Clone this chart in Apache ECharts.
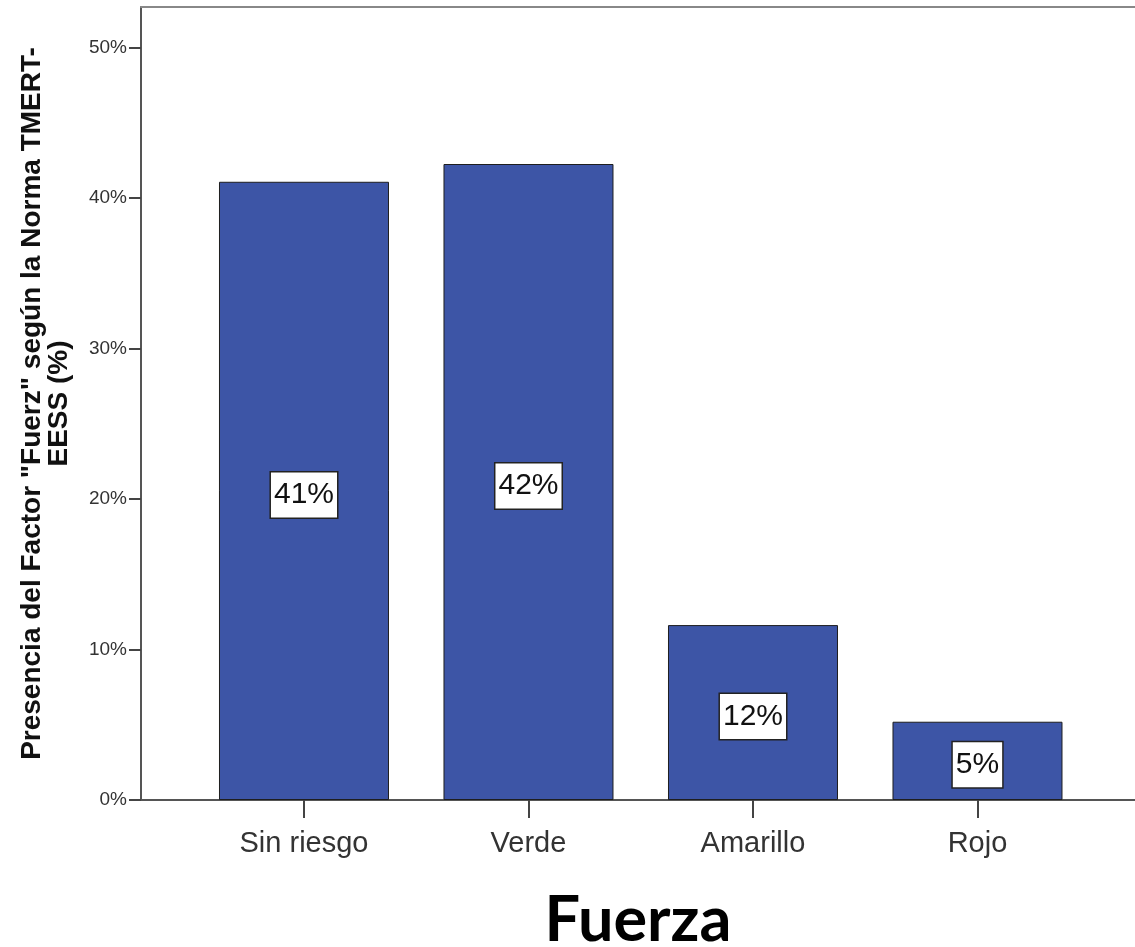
<!DOCTYPE html>
<html>
<head>
<meta charset="utf-8">
<script src="https://cdn.jsdelivr.net/npm/echarts@6/dist/echarts.min.js"></script>
<style>
html,body{margin:0;padding:0;background:#fff;}
#chart{width:1135px;height:947px;}
</style>
</head>
<body>
<div id="chart"></div>
<script>
var categories = ['Sin riesgo', 'Verde', 'Amarillo', 'Rojo'];
var values = [41.07, 42.25, 11.62, 5.2];
var yTicks = [0, 10, 20, 30, 40, 50];
var catIdx = categories.map(function (c, i) { return i; });

var chart = echarts.init(document.getElementById('chart'), null, {renderer: 'canvas'});
var FONT = '"Liberation Sans", Arial, sans-serif';
chart.setOption({
  animation: false,
  backgroundColor: '#fff',
  grid: {left: 141, right: 0, top: 7, bottom: 147, containLabel: false, outerBoundsMode: 'none'},
  xAxis: [{
    type: 'value',
    min: -0.726,
    max: 3.7016,
    name: 'Fuerza',
    nameLocation: 'middle',
    nameGap: 89,
    nameTextStyle: {fontFamily: 'Lato, "Open Sans", sans-serif', fontWeight: 'bold', fontSize: 63, color: '#000'},
    axisLine: {show: true, onZero: false, lineStyle: {color: '#555', width: 2}},
    axisTick: {show: true, customValues: catIdx, length: 18, lineStyle: {color: '#444', width: 2}},
    axisLabel: {
      customValues: catIdx,
      margin: 29,
      fontFamily: FONT, fontSize: 29, color: '#333',
      formatter: function (v) { return categories[Math.round(v)]; }
    },
    splitLine: {show: false}
  }, {
    type: 'value',
    position: 'top',
    min: -0.726,
    max: 3.7016,
    axisLine: {show: true, onZero: false, lineStyle: {color: '#888', width: 2}},
    axisTick: {show: false},
    axisLabel: {show: false},
    splitLine: {show: false}
  }],
  yAxis: {
    type: 'value',
    min: 0,
    max: 52.68,
    name: 'Presencia del Factor "Fuerz" según la Norma TMERT-\nEESS (%)',
    nameLocation: 'middle',
    nameGap: 68,
    nameTextStyle: {fontFamily: FONT, fontWeight: 'bold', fontSize: 28, lineHeight: 27, color: '#111', align: 'center'},
    axisLine: {show: true, onZero: false, lineStyle: {color: '#555', width: 2}},
    axisTick: {show: true, customValues: yTicks, length: 12, lineStyle: {color: '#444', width: 2}},
    axisLabel: {
      customValues: yTicks,
      margin: 14,
      fontFamily: FONT, fontSize: 19, color: '#333',
      formatter: function (v) { return v + '%'; }
    },
    splitLine: {show: false}
  },
  series: [{
    type: 'bar',
    xAxisIndex: 0,
    barWidth: 170,
    data: values.map(function (v, i) { return [catIdx[i], v]; }),
    itemStyle: {color: '#3d55a6', borderColor: '#1e1e1e', borderWidth: 1},
    label: {
      show: true,
      position: 'inside',
      offset: [0, 4],
      formatter: function (p) { return Math.round(p.value[1]) + '%'; },
      fontFamily: FONT, fontSize: 30, color: '#111',
      backgroundColor: '#fff',
      borderColor: '#222', borderWidth: 1.5,
      padding: [8, 3, 7, 3]
    }
  }]
});
</script>
</body>
</html>
